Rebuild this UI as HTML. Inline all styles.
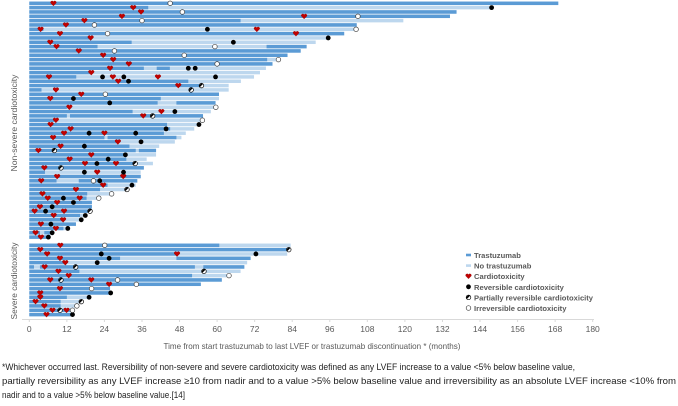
<!DOCTYPE html>
<html><head><meta charset="utf-8"><style>
html,body{margin:0;padding:0;background:#fff;}
svg{display:block;font-family:"Liberation Sans",sans-serif;}
</style></head><body>
<svg id="c" width="678" height="406" viewBox="0 0 678 406">
<g id="bars"></g>
<g id="marks"></g>
<line x1="22" y1="319.5" x2="594" y2="319.5" stroke="#d9d9d9" stroke-width="1"/>
<g id="ticks"></g>
<text x="312" y="349" font-size="8.3" fill="#595959" text-anchor="middle" textLength="297" lengthAdjust="spacingAndGlyphs">Time from start trastuzumab to last LVEF or trastuzumab discontinuation * (months)</text>
<text transform="translate(17,123) rotate(-90)" font-size="8.5" fill="#595959" text-anchor="middle" textLength="97" lengthAdjust="spacingAndGlyphs">Non-severe cardiotoxicity</text>
<text transform="translate(17,281) rotate(-90)" font-size="8.5" fill="#595959" text-anchor="middle" textLength="77" lengthAdjust="spacingAndGlyphs">Severe cardiotoxicity</text>
<g id="legend"></g>
<g font-size="9.2" fill="#222">
<text x="2" y="370" textLength="573" lengthAdjust="spacingAndGlyphs">*Whichever occurred last. Reversibility of non-severe and severe cardiotoxicity was defined as any LVEF increase to a value &lt;5% below baseline value,</text>
<text x="2" y="384" textLength="674" lengthAdjust="spacingAndGlyphs">partially reversibility as any LVEF increase ≥10 from nadir and to a value &gt;5% below baseline value and irreversibility as an absolute LVEF increase &lt;10% from</text>
<text x="2" y="398" textLength="183" lengthAdjust="spacingAndGlyphs">nadir and to a value &gt;5% below baseline value.[14]</text>
</g>
</svg>
<script>
// data
const rowEnd=[169,147.7,136.5,134.4,119.5,104.6,104.4,100.6,95.6,91.5,88.6,86.7,82.5,79.6,77.7,75.6,73.7,71.8,67.6,63.7,63.7,60.6,60.6,59.5,59.6,58,55.5,55.5,54.2,52.7,50,48.6,46.5,41.5,40.5,40.5,37.5,39.5,36.6,35.6,35.6,34.5,34,31.6,26.9,22.8,20,20,19.4,18,16.7,14.9,12.5,7.5,6.6,
83.5,82.9,82.4,70.7,69.6,68.7,67.5,63.8,61.5,54.8,25.8,26,19,16.6,15.2,13.8,13.8];
const rowDark=[[[0,169]],[[0,38]],[[0,136.5]],[[0,134.4]],[[0,67.5]],[[0,104.6]],[[0,4.5]],[[0,100.6]],[[0,20]],[[0,32.7]],[[0,21.8],[75.8,88.6]],[[0,86.7]],[[0,82.5]],[[0,76]],[[0,77.7]],[[0,36.6],[40.7,44.9]],[[0,20]],[[0,15]],[[0,50.8]],[[0,55]],[[0,3.9]],[[0,60.6]],[[0,42]],[[0,41],[47,59.5]],[[0,12]],[[0,33]],[[0,12],[13,55.5]],[[0,8]],[[0,44]],[[0,45]],[[0,43]],[[0,24],[25,47]],[[0,28]],[[0,32]],[[0,34],[35,40.5]],[[0,31]],[[0,31]],[[0,34]],[[0,36.6]],[[0,5]],[[0,35.6]],[[0,8.7],[15.8,34.5]],[[0,25]],[[0,22.6]],[[0,18.5]],[[0,18.3]],[[0,20]],[[0,20]],[[0,19.4]],[[0,16.2]],[[0,10.9]],[[0,14.9]],[[0,10.9]],[[0,3.4],[4.8,7.5]],[[0,6.6]],
[[0,60.7]],[[0,82.4]],[[0,47]],[[0,29],[47,70.7]],[[0,12]],[[0,1.5],[3.4,52.9],[55.6,68.7]],[[0,16]],[[0,52]],[[0,61.5]],[[0,54.8]],[[0,25.8]],[[0,26]],[[0,12]],[[0,10]],[[0,10]],[[0,13.8]],[[0,13.8]]];
const hearts=[[0,7.7],[1,33.2],[2,35.7],[3,29.6],[3,87.8],[4,17.6],[5,11.7],[6,3.6],[6,72.7],[7,9.8],[7,85.2],[8,19.6],[9,6.7],[10,8.7],[11,15.8],[12,23.6],[13,26.8],[14,31.8],[15,25.8],[16,19.8],[17,6.3],[17,26.7],[17,41.1],[18,28.4],[19,47.6],[20,8.5],[21,16.6],[22,6.7],[24,12.8],[25,42.2],[26,36.4],[27,8.5],[28,6.8],[29,13.2],[30,11.1],[30,24],[31,7.6],[32,28.3],[33,10],[34,2.9],[35,19.8],[36,12.9],[37,17.8],[37,27.7],[38,4.8],[39,21.7],[40,8.9],[40,30],[41,3.8],[42,23.6],[43,14.9],[44,4.2],[45,5.9],[45,16.1],[46,8.9],[47,3.4],[48,1.7],[48,11.1],[49,7.8],[50,10.8],[51,3.7],[52,8.5],[53,2],[54,3.7],
[55,9.9],[56,3.5],[57,5.7],[57,47.2],[58,9.8],[59,11.5],[60,4.9],[61,9.3],[62,12.6],[63,6.7],[63,19.8],[64,25.5],[65,9.8],[66,3.5],[67,3.5],[68,2],[69,4.8],[70,7.4],[70,11.9],[71,5.5]];
const reversible=[[1,147.7],[6,56.9],[8,95.5],[9,65.2],[15,50.8],[15,53],[17,23.4],[17,30.2],[17,59.5],[18,31.7],[22,14.1],[23,25.7],[25,46.5],[28,54.2],[29,43.7],[30,19.1],[30,34],[32,35.7],[33,17.6],[35,30.7],[36,25.2],[37,21.6],[39,17.6],[39,30.1],[41,22.5],[42,32.8],[45,10.9],[46,14.1],[47,7.3],[48,5.2],[49,17.9],[50,16.6],[51,6.9],[52,12.3],[53,7.3],[54,6.1],
[57,23],[57,72.4],[58,25.5],[59,21.7],[66,26],[67,19.1],[71,13.8]];
const partial=[[19,55],[20,51.7],[26,39.4],[34,8],[37,33.8],[38,10.1],[43,31.2],[48,19.4],[56,82.9],[60,14.8],[61,55.8],[63,10.1],[68,16.6],[70,9.8]];
const irreversible=[[0,45],[2,48.9],[3,105],[4,36],[5,20.8],[6,104.4],[7,25],[10,59.3],[11,27.2],[12,49.5],[13,79.6],[14,60],[21,24.3],[24,59.6],[27,55.3],[41,20.5],[44,26.3],[45,22.2],[55,24.1],[62,63.8],[63,28.2],[64,34.2],[65,19.9],[69,15.2],[70,13.8]];
const tickLabels=[0,12,24,36,48,60,72,84,96,108,120,132,144,156,168,180];
const legendLabels=["Trastuzumab","No trastuzumab","Cardiotoxicity","Reversible cardiotoxicity","Partially reversible cardiotoxicity","Irreversible cardiotoxicity"];

const NS='http://www.w3.org/2000/svg';
const X=t=>29.3+t*3.13;
const Y=i=>i<55?3.3+i*4.33:245.3+(i-55)*4.33;
const DARK='#5b9bd5',LIGHT='#bdd7ee',RED='#c00000';
function mk(tag,attrs,parent){const e=document.createElementNS(NS,tag);for(const k in attrs)e.setAttribute(k,attrs[k]);parent.appendChild(e);return e;}
const bars=document.getElementById('bars'),marks=document.getElementById('marks');
rowEnd.forEach((end,i)=>{
  const r=mk('rect',{x:X(0),y:Y(i)-1.75,width:X(end)-X(0),height:3.5,fill:LIGHT},bars);
  
  
  rowDark[i].forEach(s=>{
    const d=mk('rect',{x:X(s[0]),y:Y(i)-1.75,width:X(s[1])-X(s[0]),height:3.5,fill:DARK},bars);
    
    
  });
});
function heart(x,y,p,name){
  const h=mk('path',{d:`M${x},${y+2.6} L${x-2.7},${y-0.2} A1.35,1.35 0 0 1 ${x},${y-1.5} A1.35,1.35 0 0 1 ${x+2.7},${y-0.2} Z`,fill:RED,stroke:'#7a0000','stroke-width':0.3},p);
  
  
}
function dot(x,y,type,p,name){
  const g=mk('g',{},p);
  
  
  if(type==='R'){mk('circle',{cx:x,cy:y,r:2.4,fill:'#000'},g);}
  else if(type==='O'){mk('circle',{cx:x,cy:y,r:2.3,fill:'#fff',stroke:'#404040','stroke-width':0.7},g);}
  else{mk('circle',{cx:x,cy:y,r:2.3,fill:'#fff',stroke:'#000','stroke-width':0.7},g);
    mk('path',{d:`M${x-1.6},${y+1.6} A2.3,2.3 0 0 1 ${x+1.6},${y-1.6} Z`,fill:'#000'},g);}
}
hearts.forEach(h=>heart(X(h[1]),Y(h[0]),marks,'cardiotoxicity-marker'));
reversible.forEach(h=>dot(X(h[1]),Y(h[0]),'R',marks,'reversible-marker'));
partial.forEach(h=>dot(X(h[1]),Y(h[0]),'P',marks,'partially-reversible-marker'));
irreversible.forEach(h=>dot(X(h[1]),Y(h[0]),'O',marks,'irreversible-marker'));
const ticks=document.getElementById('ticks');
tickLabels.forEach(v=>{
  const l=mk('line',{x1:X(v),x2:X(v),y1:319.5,y2:322,stroke:'#d9d9d9','stroke-width':1},ticks);
  
  
  const t=mk('text',{x:X(v),y:332,'font-size':8.5,fill:'#595959','text-anchor':'middle'},ticks);
  t.textContent=v;
  
  
});
const lg=document.getElementById('legend');
legendLabels.forEach((lab,i)=>{
  const y=255+i*10.6;
  const g=mk('g',{},lg);
  
  
  if(i===0)mk('rect',{x:466,y:y-1.3,width:5,height:2.6,fill:DARK},g);
  else if(i===1)mk('rect',{x:466,y:y-1.3,width:5,height:2.6,fill:LIGHT},g);
  else if(i===2)heart(468.5,y,g,'legend-heart');
  else dot(468.5,y,['R','P','O'][i-3],g,'legend-symbol');
  const t=mk('text',{x:474,y:y+3,'font-size':7.6,'font-weight':'bold',fill:'#595959'},g);
  t.textContent=lab;
});
</script>
</body></html>
